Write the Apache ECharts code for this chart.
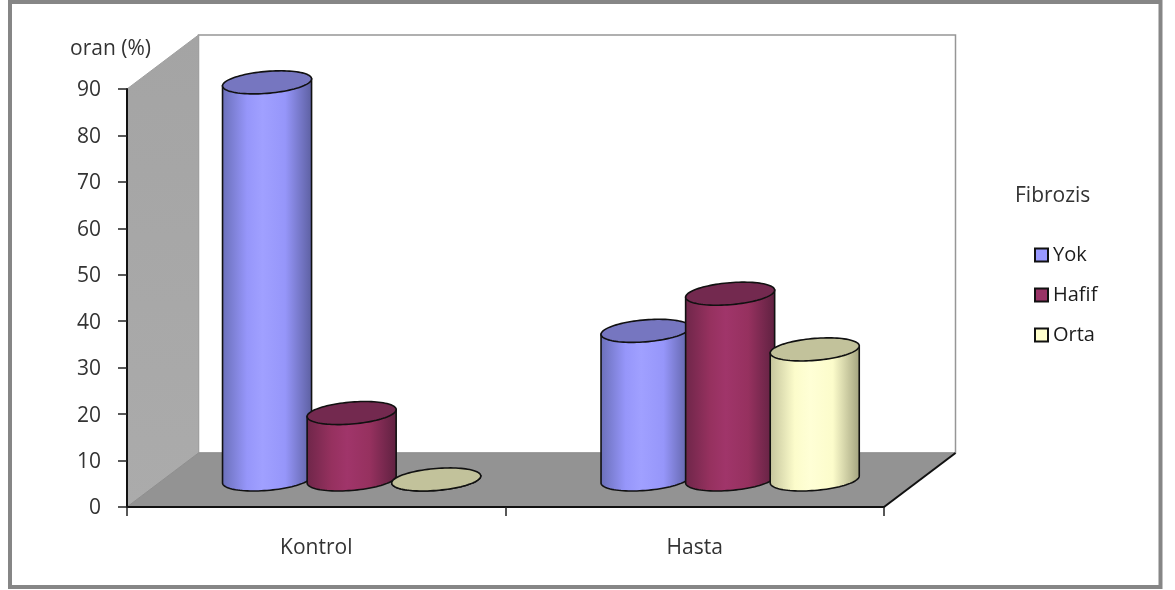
<!DOCTYPE html>
<html>
<head>
<meta charset="utf-8">
<style>html,body{margin:0;padding:0;background:#fff}#chart{width:1175px;height:590px}</style>
<script src="https://cdn.jsdelivr.net/npm/echarts@6/dist/echarts.min.js"></script>
</head>
<body>
<div id="chart"></div>
<script>
// Fibrosis grade share by group
const categories = ['Kontrol', 'Hasta'];
const yok = [85.5, 32];
const hafif = [14.3, 40];
const orta = [0, 28];
const yTicks = { min: 0, max: 90, step: 10 };

const FONT = '"Open Sans", "Noto Sans", sans-serif';
const TEXT = '#333333';

// Oblique projection of the chart depth
const DEPTH_X = 71.5;
const DEPTH_Y = -54;

const shade = {
  Yok:   { base: '#9999ff', edge: '#6a6fb8', light: '#a0a0ff', mid: '#9696fa', dark: '#5c5fa0', top: '#7676c0' },
  Hafif: { base: '#993366', edge: '#6e2649', light: '#a0356a', mid: '#96315f', dark: '#5e2140', top: '#73294f' },
  Orta:  { base: '#ffffcc', edge: '#c4c49c', light: '#ffffd6', mid: '#fcfccb', dark: '#a2a27e', top: '#c2c29b' }
};

function gradient(s) {
  return {
    type: 'linear', x: 0, y: 0, x2: 1, y2: 0,
    colorStops: [
      { offset: 0, color: s.edge },
      { offset: 0.28, color: s.mid },
      { offset: 0.45, color: s.light },
      { offset: 0.7, color: s.mid },
      { offset: 1, color: s.dark }
    ]
  };
}

// Points of a tilted ellipse between two parameter angles
function arc(cx, cy, rx, ry, tilt, from, to, n) {
  const pts = [];
  for (let i = 0; i <= n; i++) {
    const t = from + (to - from) * i / n;
    pts.push([cx + rx * Math.cos(t), cy + ry * Math.sin(t) - tilt * Math.cos(t)]);
  }
  return pts;
}

function cylinderSeries(name, values, slot) {
  const s = shade[name];
  return {
    name,
    type: 'custom',
    coordinateSystem: 'cartesian2d',
    z: 2,
    itemStyle: { color: s.base },
    data: values.map((v, i) => [i, v]),
    renderItem(params, api) {
      const band = api.size([1, 0])[0];
      const top = api.coord([api.value(0), api.value(1)]);
      const base = api.coord([api.value(0), 0]);
      const rx = band * 0.1176;
      const ry = 11;
      const tilt = 3.5;
      const cx = top[0] + slot * band * 0.2235 + DEPTH_X * 0.495;
      const topY = top[1] + DEPTH_Y * 0.51;
      const baseY = base[1] + DEPTH_Y * 0.51;
      const body = [[cx + rx, topY - tilt]]
        .concat(arc(cx, baseY, rx, ry, tilt, 0, Math.PI, 48))
        .concat([[cx - rx, topY + tilt]]);
      return {
        type: 'group',
        children: [
          {
            type: 'polygon',
            shape: { points: body },
            style: { fill: gradient(s), stroke: '#111', lineWidth: 1.6 }
          },
          {
            type: 'polygon',
            shape: { points: arc(cx, topY, rx, ry, tilt, 0, Math.PI * 2, 96) },
            style: { fill: s.top, stroke: '#111', lineWidth: 1.6 }
          }
        ]
      };
    }
  };
}

// Back wall, side wall and floor, projected from the plot rectangle
const roomSeries = {
  name: 'room',
  type: 'custom',
  coordinateSystem: 'cartesian2d',
  z: 1,
  silent: true,
  data: [[0, 0]],
  renderItem(params) {
    const g = params.coordSys;
    const L = g.x, R = g.x + g.width, T = g.y, B = g.y + g.height;
    const dx = DEPTH_X, dy = DEPTH_Y;
    return {
      type: 'group',
      children: [
        {
          type: 'polygon',
          shape: { points: [[L + dx, T + dy], [R + dx, T + dy], [R + dx, B + dy], [L + dx, B + dy]] },
          style: { fill: '#ffffff', stroke: '#969696', lineWidth: 1.5 }
        },
        {
          type: 'polygon',
          shape: { points: [[L, T], [L + dx, T + dy], [L + dx, B + dy], [L, B]] },
          style: {
            fill: { type: 'linear', x: 0, y: 0, x2: 0, y2: 1, colorStops: [{ offset: 0, color: '#a4a4a4' }, { offset: 1, color: '#ababab' }] },
            stroke: '#a0a0a0', lineWidth: 1
          }
        },
        {
          type: 'polygon',
          shape: { points: [[L, B], [L + dx, B + dy], [R + dx, B + dy], [R, B]] },
          style: { fill: '#939393', stroke: '#8f8f8f', lineWidth: 1 }
        },
        {
          type: 'line',
          shape: { x1: R, y1: B, x2: R + dx, y2: B + dy },
          style: { stroke: '#111', lineWidth: 2 }
        }
      ]
    };
  }
};

const chart = echarts.init(document.getElementById('chart'), null, { renderer: 'canvas' });
chart.setOption({
  animation: false,
  backgroundColor: '#ffffff',
  grid: { left: 127, right: 291, top: 89, bottom: 83 },
  title: {
    text: 'Fibrozis', left: 1010, top: 181,
    textStyle: { fontFamily: FONT, fontSize: 21, fontWeight: 'normal', color: TEXT }
  },
  legend: {
    data: ['Yok', 'Hafif', 'Orta'],
    orient: 'vertical',
    left: 1029, top: 240,
    itemWidth: 13, itemHeight: 13, itemGap: 20,
    icon: 'rect',
    selectedMode: false,
    itemStyle: { borderColor: '#111', borderWidth: 2 },
    textStyle: { fontFamily: FONT, fontSize: 20, color: '#1c1c1c', padding: [0, 0, 0, 0] }
  },
  xAxis: {
    type: 'category',
    data: categories,
    z: 5,
    axisLine: { lineStyle: { color: '#111', width: 2 } },
    axisTick: { show: true, length: 9, lineStyle: { color: '#222', width: 1.5 } },
    axisLabel: { fontFamily: FONT, fontSize: 21, color: TEXT, margin: 31 }
  },
  yAxis: {
    type: 'value',
    min: yTicks.min, max: yTicks.max, interval: yTicks.step,
    name: 'oran (%)',
    nameLocation: 'end',
    nameGap: 29,
    nameTextStyle: { fontFamily: FONT, fontSize: 21, color: TEXT, align: 'right', padding: [0, -24, 0, 0] },
    z: 5,
    splitLine: { show: false },
    axisLine: { show: true, lineStyle: { color: '#111', width: 2 } },
    axisTick: { show: true, length: 9, lineStyle: { color: '#222', width: 1.5 } },
    axisLabel: { fontFamily: FONT, fontSize: 21, color: TEXT, margin: 26, verticalAlign: 'top', padding: [-9, 0, 0, 0] }
  },
  series: [
    roomSeries,
    cylinderSeries('Yok', yok, -1),
    cylinderSeries('Hafif', hafif, 0),
    cylinderSeries('Orta', orta, 1)
  ],
  graphic: [{
    type: 'rect',
    z: 100,
    silent: true,
    shape: { x: 10, y: 2, width: 1150.5, height: 585 },
    style: { fill: 'none', stroke: '#868686', lineWidth: 4 }
  }]
});
</script>
</body>
</html>
